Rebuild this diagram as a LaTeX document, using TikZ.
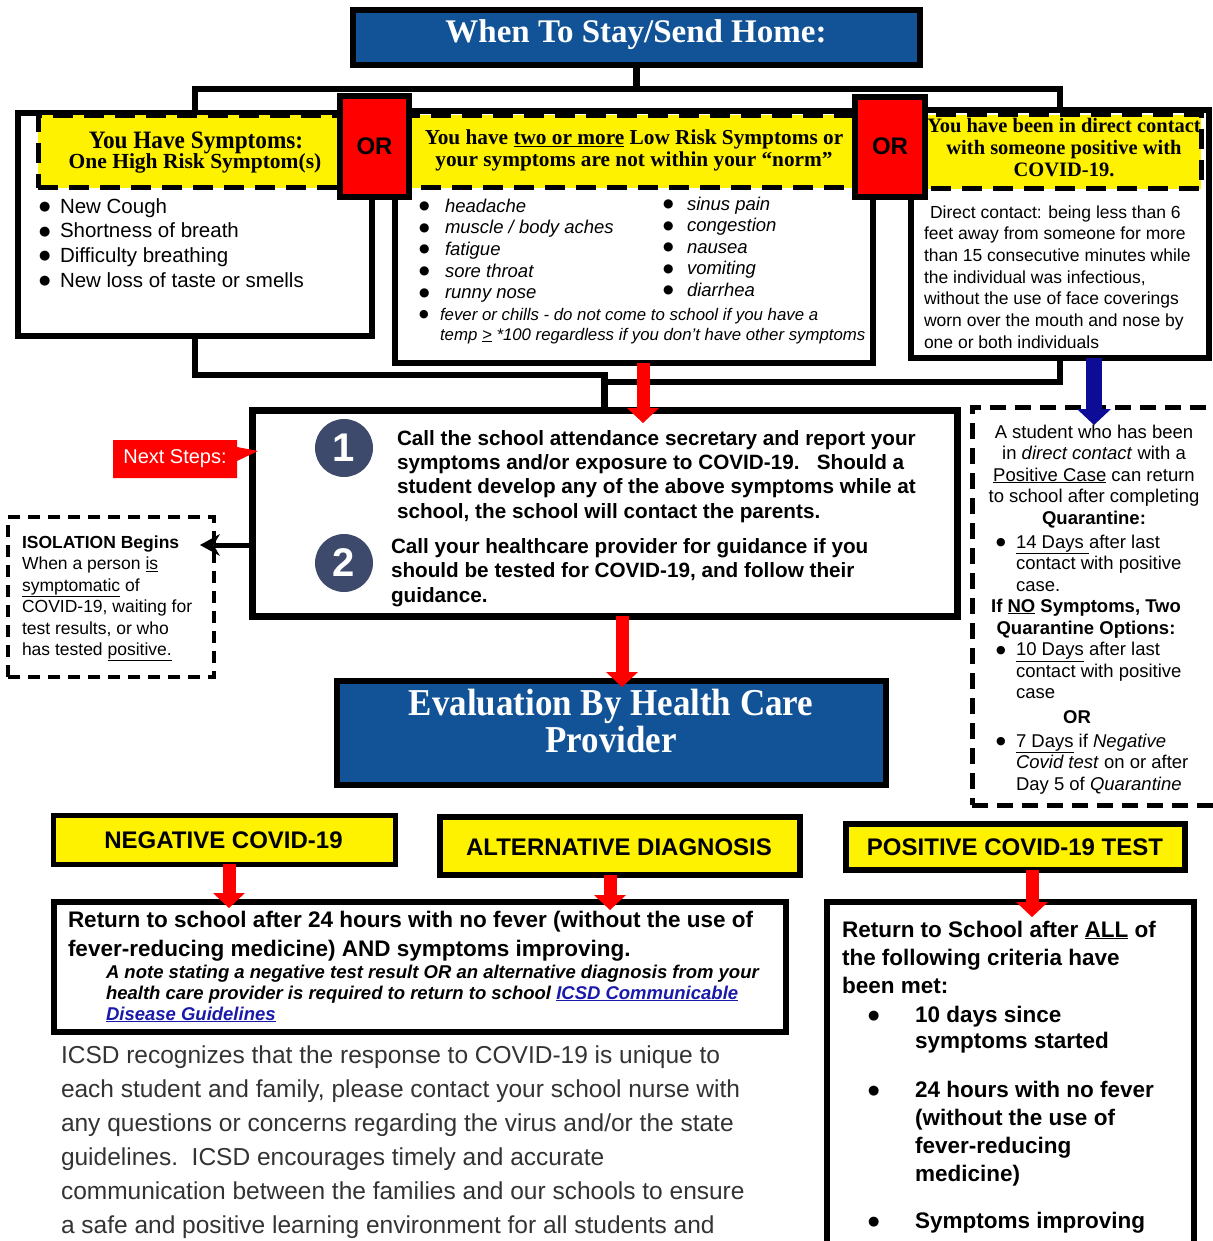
\documentclass[tikz,border=0pt]{standalone}
\usepackage{fontspec}
\usepackage{graphicx}
\setmainfont{Liberation Sans}
\newfontfamily\hdrfont{Liberation Serif}
\newfontfamily\symfont{DejaVu Sans}
\usetikzlibrary{arrows.meta,shapes.callouts}
\definecolor{hblue}{RGB}{17,83,150}
\definecolor{cblue}{RGB}{62,74,108}
\definecolor{arrnavy}{RGB}{12,12,150}
\definecolor{lnk}{RGB}{25,25,170}
\definecolor{ptext}{RGB}{51,51,51}
\newcommand\tstr{\rule{0pt}{1em}}
\newcommand\fs[2]{\fontsize{#1}{#2}\selectfont}
\newcommand\blt[2]{\makebox[#1][l]{\raisebox{2.5pt}{\symfont\fontsize{#2}{#2}\selectfont ●}}}
\begin{document}
\begin{tikzpicture}[x=1pt,y=-1pt,
 box/.style={draw=black, line width=6pt, fill=white, rectangle, inner sep=0pt, outer sep=0pt},
 hdr/.style={draw=black, line width=5pt, fill=yellow, dash pattern=on 20pt off 11pt, rectangle, inner sep=0pt, outer sep=0pt},
 orbox/.style={box, fill=red},
 bluebox/.style={box, fill=hblue},
 ybox/.style={box, fill=yellow},
 dbox/.style={draw=black, line width=5pt, dash pattern=on 16pt off 9pt, rectangle, inner sep=0pt, outer sep=0pt},
 bline/.style={draw=black, line width=6.5pt},
 redarr/.style={draw=red, line width=13pt, -{Triangle[length=15pt,width=32pt,line width=0pt]}},
 bluearr/.style={draw=arrnavy, line width=16pt, -{Triangle[length=16pt,width=34pt,line width=0pt]}},
 blkarr/.style={draw=black, line width=5pt, -{Stealth[length=20pt,width=22pt,line width=0pt]}},
 tx/.style={inner sep=0pt, outer sep=0pt, anchor=north west, align=left},
 tc/.style={inner sep=0pt, outer sep=0pt, anchor=north, align=center},
 tb/.style={inner sep=0pt, outer sep=0pt, anchor=base},
]
\fill[white] (0,0) rectangle (1212,1241);
\useasboundingbox (0,0) rectangle (1212,1241);

% ---------- boxes ----------
\node[box, minimum width=354pt, minimum height=223pt] (lbox) at (195,224.5) {};
\node[box, minimum width=478pt, minimum height=252pt] (mbox) at (634,237) {};
\node[box, minimum width=298pt, minimum height=248pt] (rbox) at (1060,234) {};
\node[hdr, minimum width=322pt, minimum height=72.5pt] (lhdr) at (199,151.75) {};
\node[hdr, minimum width=490pt, minimum height=72.5pt] (mhdr) at (635,151.75) {};
\node[hdr, minimum width=301pt, minimum height=74pt] (rhdr) at (1050.5,152) {};
\node[orbox, minimum width=69pt, minimum height=101pt] (or1) at (374.5,146.5) {};
\node[orbox, minimum width=70pt, minimum height=100pt] (or2) at (890,147) {};
\node[bluebox, minimum width=567pt, minimum height=55pt] (title) at (636.5,37.5) {};
\node[box, line width=7pt, minimum width=705pt, minimum height=206pt] (step) at (604.5,513) {};
\node[bluebox, minimum width=549pt, minimum height=104pt] (eval) at (611.5,733) {};
\node[dbox, minimum width=243pt, minimum height=398pt] (quar) at (1093.5,606) {};
\node[dbox, line width=3.5pt, dash pattern=on 12pt off 8pt, minimum width=206pt, minimum height=160pt] (iso) at (111,597) {};
\node[ybox, line width=5pt, minimum width=342pt, minimum height=49pt] (neg) at (224,839.5) {};
\node[ybox, minimum width=360pt, minimum height=58pt] (alt) at (620,846) {};
\node[ybox, minimum width=339pt, minimum height=46pt] (pos) at (1015.5,847) {};
\node[box, minimum width=732pt, minimum height=130pt] (ret) at (420,967) {};
\node[box, minimum width=367pt, minimum height=360pt] (pret) at (1010.5,1082) {};
\node[circle, fill=cblue, minimum size=58pt, inner sep=0pt, text=white, font=\bfseries\fs{40}{44}] (c1) at (344,448) {1};
\node[circle, fill=cblue, minimum size=58pt, inner sep=0pt, text=white, font=\bfseries\fs{40}{44}] (c2) at (344,563) {2};
\node[rectangle callout, fill=red, text=white, inner sep=0pt, minimum width=124pt, minimum height=38pt, callout absolute pointer={(258,451)}, callout pointer width=14pt, font=\fs{20}{24}] (nsteps) at (175,459) {Next Steps:};

% ---------- connectors ----------
\draw[bline] (lbox.north) |- (rbox.north |- 0,89) -- (rbox.north);
\draw[bline] (title.south) -- (title.south |- 0,89);
\draw[bline] (lbox.south) |- (step.north |- 0,375) -- (step.north);
\draw[bline] (rbox.south) |- (step.north |- 0,382);
\draw[redarr, shorten >=-13pt] (643,0 |- mbox.south) -- (643,0 |- step.north);
\draw[bluearr, shorten >=-18pt] (1094,0 |- rbox.south) -- (1094,0 |- quar.north);
\draw[redarr, shorten >=-6pt] (622,0 |- step.south) -- (622,0 |- eval.north);
\draw[blkarr, shorten >=-14pt] (0,545 -| step.west) -- (0,545 -| iso.east);
\draw[redarr, shorten >=-6pt] (229,0 |- neg.south) -- (229,0 |- ret.north);
\draw[redarr, shorten >=-8pt] (610,0 |- alt.south) -- (610,0 |- ret.north);
\draw[redarr, shorten >=-15pt] (1032,0 |- pos.south) -- (1032,0 |- pret.north);

% ---------- texts ----------
\node[tb, text=white, font=\hdrfont\bfseries\fs{33}{40}] (ttl) at (636,43) {When To Stay/Send Home:};
\node[tb, font=\hdrfont\bfseries\fs{25}{28}] (lh1) at (196,149) {\scalebox{0.93}[1]{You Have Symptoms:}};
\node[tb, font=\hdrfont\bfseries\fs{21.5}{24}] (lh2) at (195,169) {One High Risk Symptom(s)};
\node[tb, font=\bfseries\fs{24}{28}] (ort1) at (374.5,155) {OR};
\node[tb, font=\bfseries\fs{24}{28}] (ort2) at (890,155) {OR};
\node[tc, font=\hdrfont\bfseries\fs{21.3}{22}] (mh) at (634,123.7) {\tstr You have \underline{two or more} Low Risk Symptoms or\\your symptoms are not within your “norm”};
\node[tc, font=\hdrfont\bfseries\fs{20.5}{22}] (rh) at (1064,112.5) {\tstr You have been in direct contact\\with someone positive with\\COVID-19.};

\node[tx, font=\fs{20.5}{24.7}] (ll) at (39,192.5) {\tstr\blt{21pt}{13}New Cough\\\blt{21pt}{13}Shortness of breath\\\blt{21pt}{13}Difficulty breathing\\\blt{21pt}{13}New loss of taste or smells};
\node[tx, font=\itshape\fs{18.5}{21.7}] (ml1) at (419,193.5) {\tstr\blt{26pt}{12}headache\\\blt{26pt}{12}muscle / body aches\\\blt{26pt}{12}fatigue\\\blt{26pt}{12}sore throat\\\blt{26pt}{12}runny nose};
\node[tx, font=\itshape\fs{18.5}{21.5}] (ml2) at (663,191.5) {\tstr\blt{24pt}{12}sinus pain\\\blt{24pt}{12}congestion\\\blt{24pt}{12}nausea\\\blt{24pt}{12}vomiting\\\blt{24pt}{12}diarrhea};
\node[tx, font=\itshape\fs{16.8}{20}] (ml3) at (419,303.2) {\tstr\blt{21pt}{11}fever or chills - do not come to school if you have a\\\hspace*{21pt}temp \underline{>} *100 regardless if you don't have other symptoms};
\node[tx, font=\fs{17.5}{21.7}] (rb) at (924,200.5) {\tstr\hspace*{6pt}Direct contact: being less than 6\\feet away from someone for more\\than 15 consecutive minutes while\\the individual was infectious,\\without the use of face coverings\\worn over the mouth and nose by\\one or both individuals};

\node[tx, font=\bfseries\fs{20.7}{24.4}] (s1) at (397,424.3) {\tstr Call the school attendance secretary and report your\\symptoms and/or exposure to COVID-19.\ \ \ Should a\\student develop any of the above symptoms while at\\school, the school will contact the parents.};
\node[tx, font=\bfseries\fs{20.7}{24.5}] (s2) at (391,532.3) {\tstr Call your healthcare provider for guidance if you\\should be tested for COVID-19, and follow their\\guidance.};
\node[tx, font=\fs{17.5}{21.5}] (isot) at (22,530.5) {\tstr\textbf{ISOLATION Begins}\\When a person \underline{is}\\\underline{symptomatic} of\\COVID-19, waiting for\\test results, or who\\has tested \underline{positive.}};

\node[tb, text=white, font=\hdrfont\bfseries\fs{38}{40}] (ev1) at (611,715) {\scalebox{0.92}[1]{Evaluation By Health Care}};
\node[tb, text=white, font=\hdrfont\bfseries\fs{38}{40}] (ev2) at (611,752) {\scalebox{0.92}[1]{Provider}};

\node[tc, font=\fs{18.5}{21.5}] (qa) at (1094,419.5) {\tstr A student who has been\\in \textit{direct contact} with a\\\underline{Positive Case} can return\\to school after completing\\\textbf{Quarantine:}};
\node[tx, font=\fs{18.5}{21.5}] (qb1) at (996,529.5) {\tstr\blt{20pt}{11}\underline{14 Days\ }after last\\\hspace*{20pt}contact with positive\\\hspace*{20pt}case.};
\node[tc, font=\bfseries\fs{18.5}{22}] (qc) at (1086,593.5) {\tstr If \underline{NO} Symptoms, Two\\Quarantine Options:};
\node[tx, font=\fs{18.5}{21.5}] (qb2) at (996,637) {\tstr\blt{20pt}{11}\underline{10 Days} after last\\\hspace*{20pt}contact with positive\\\hspace*{20pt}case};
\node[tb, font=\bfseries\fs{18.5}{22}] (qor) at (1077,723) {OR};
\node[tx, font=\fs{18.5}{21.5}] (qb3) at (996,728.5) {\tstr\blt{20pt}{11}\underline{7 Days} if \textit{Negative}\\\hspace*{20pt}\textit{Covid test} on or after\\\hspace*{20pt}Day 5 of \textit{Quarantine}};

\node[tb, font=\bfseries\fs{24}{28}] (negt) at (223.5,848) {NEGATIVE COVID-19};
\node[tb, font=\bfseries\fs{24}{28}] (altt) at (619,855) {ALTERNATIVE DIAGNOSIS};
\node[tb, font=\bfseries\fs{24}{28}] (post) at (1015,855) {POSITIVE COVID-19 TEST};

\node[tx, font=\bfseries\fs{22.5}{29}] (r1) at (68,904.5) {\tstr Return to school after 24 hours with no fever (without the use of\\fever-reducing medicine) AND symptoms improving.};
\node[tx, font=\bfseries\itshape\fs{18.5}{21}] (r2) at (106,959.5) {\tstr A note stating a negative test result OR an alternative diagnosis from your\\health care provider is required to return to school \textcolor{lnk}{\underline{ICSD Communicable}}\\\textcolor{lnk}{\underline{Disease Guidelines}}};
\node[tx, font=\fs{24.5}{34}, text=ptext] (para) at (61,1038.5) {\tstr ICSD recognizes that the response to COVID-19 is unique to\\each student and family, please contact your school nurse with\\any questions or concerns regarding the virus and/or the state\\guidelines.\ \ ICSD encourages timely and accurate\\communication between the families and our schools to ensure\\a safe and positive learning environment for all students and};

\node[tx, font=\bfseries\fs{22.5}{28}] (p1) at (842,914.5) {\tstr Return to School after \underline{ALL} of\\the following criteria have\\been met:};
\node[tx, font=\bfseries\fs{22.5}{26.5}] (pb1) at (868,999.5) {\tstr\blt{47pt}{13}10 days since\\\hspace*{47pt}symptoms started};
\node[tx, font=\bfseries\fs{22.5}{28.3}] (pb2) at (868,1074.5) {\tstr\blt{47pt}{13}24 hours with no fever\\\hspace*{47pt}(without the use of\\\hspace*{47pt}fever-reducing\\\hspace*{47pt}medicine)};
\node[tx, font=\bfseries\fs{22.5}{28}] (pb3) at (868,1205.5) {\tstr\blt{47pt}{13}Symptoms improving};
\end{tikzpicture}
\end{document}
